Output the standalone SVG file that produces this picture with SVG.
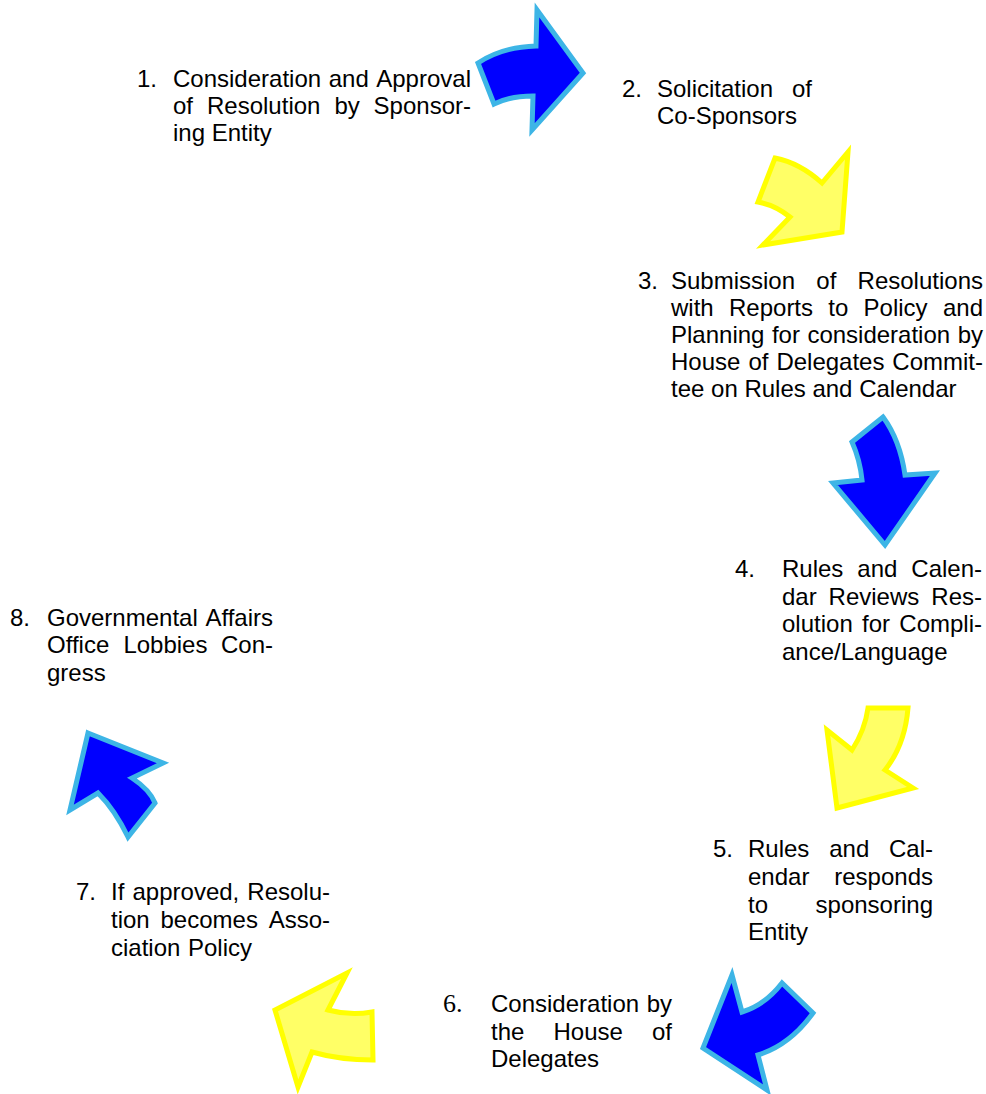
<svg xmlns="http://www.w3.org/2000/svg" width="986" height="1094" viewBox="0 0 986 1094">
<style>
.t{font-family:"Liberation Sans",Arial,sans-serif;font-size:24px;fill:#000}
.s{font-family:"Liberation Serif","Times New Roman",serif;font-size:26px;fill:#000}
.e{text-anchor:end}
.blue{fill:#0000FF;stroke:#3DB5E6;stroke-width:5;stroke-linejoin:miter}
.yellow{fill:#FFFF66;stroke:#FFFF00;stroke-width:5;stroke-linejoin:miter}
</style>
<rect width="986" height="1094" fill="#fff"/>
<g id="connectors">
<path class="blue" d="M478,63 Q502,47 536,46 L537,10 L583,73 L532,130 L533,96 Q510,96 494,104 Z"/>
<path class="yellow" d="M775,158 Q800,163 822,183 L848,152 L842,232 L763,245 L790,217 Q775,205 758,202 Z"/>
<path class="blue" d="M852,442 L883,417 Q900,440 905,475 L935,473 L885,545 L833,483 L862,480 Q860,460 852,442 Z"/>
<path class="yellow" d="M868,708 L908,708 Q905,745 885,770 L913,788 L837,808 L827,730 L852,750 Q865,730 868,708 Z"/>
<path class="blue" d="M732,975 L742,1012 Q765,1005 782,983 L813,1013 Q790,1045 758,1055 L767,1090 L703,1048 Z"/>
<path class="yellow" d="M347,973 L328,1010 Q350,1016 372,1012 L373,1060 Q340,1060 312,1052 L298,1087 L275,1010 Z"/>
<path class="blue" d="M88,733 L163,763 L132,778 Q150,790 155,803 L128,837 Q115,810 98,793 L70,810 Z"/>
</g>
<g id="node1">
<text class="t" x="137" y="87">1.</text>
<text class="t" y="87"><tspan x="173">Consideration</tspan><tspan x="328.7">and</tspan><tspan x="471" class="e">Approval</tspan></text>
<text class="t" y="114"><tspan x="173">of</tspan><tspan x="207">Resolution</tspan><tspan x="334.4">by</tspan><tspan x="471" class="e">Sponsor-</tspan></text>
<text class="t" x="173" y="141">ing Entity</text>
</g>
<g id="node2">
<text class="t" x="622" y="97">2.</text>
<text class="t" y="97"><tspan x="657">Solicitation</tspan><tspan x="812" class="e">of</tspan></text>
<text class="t" x="657" y="124">Co-Sponsors</text>
</g>
<g id="node3">
<text class="t" x="638" y="289">3.</text>
<text class="t" y="289"><tspan x="671">Submission</tspan><tspan x="816.3">of</tspan><tspan x="983" class="e">Resolutions</tspan></text>
<text class="t" y="316"><tspan x="671">with</tspan><tspan x="729">Reports</tspan><tspan x="828.3">to</tspan><tspan x="863.6">Policy</tspan><tspan x="983" class="e">and</tspan></text>
<text class="t" y="343"><tspan x="671">Planning</tspan><tspan x="771.9">for</tspan><tspan x="807.4">consideration</tspan><tspan x="983" class="e">by</tspan></text>
<text class="t" y="370"><tspan x="671">House</tspan><tspan x="748.4">of</tspan><tspan x="776.4">Delegates</tspan><tspan x="983" class="e">Commit-</tspan></text>
<text class="t" x="671" y="397">tee on Rules and Calendar</text>
</g>
<g id="node4">
<text class="t" x="735" y="577">4.</text>
<text class="t" y="577"><tspan x="782">Rules</tspan><tspan x="857.3">and</tspan><tspan x="982" class="e">Calen-</tspan></text>
<text class="t" y="605"><tspan x="782">dar</tspan><tspan x="828.6">Reviews</tspan><tspan x="982" class="e">Res-</tspan></text>
<text class="t" y="632"><tspan x="782">olution</tspan><tspan x="862">for</tspan><tspan x="982" class="e">Compli-</tspan></text>
<text class="t" x="782" y="660">ance/Language</text>
</g>
<g id="node5">
<text class="t" x="713" y="857">5.</text>
<text class="t" y="857"><tspan x="748">Rules</tspan><tspan x="829.2">and</tspan><tspan x="933" class="e">Cal-</tspan></text>
<text class="t" y="885"><tspan x="748">endar</tspan><tspan x="933" class="e">responds</tspan></text>
<text class="t" y="913"><tspan x="748">to</tspan><tspan x="933" class="e">sponsoring</tspan></text>
<text class="t" x="748" y="940">Entity</text>
</g>
<g id="node6">
<text class="s" x="443" y="1012">6.</text>
<text class="t" y="1012"><tspan x="491">Consideration</tspan><tspan x="672" class="e">by</tspan></text>
<text class="t" y="1040"><tspan x="491">the</tspan><tspan x="553.5">House</tspan><tspan x="672" class="e">of</tspan></text>
<text class="t" x="491" y="1067">Delegates</text>
</g>
<g id="node7">
<text class="t" x="76" y="900">7.</text>
<text class="t" y="900"><tspan x="111">If</tspan><tspan x="132.5">approved,</tspan><tspan x="330" class="e">Resolu-</tspan></text>
<text class="t" y="928"><tspan x="111">tion</tspan><tspan x="160.5">becomes</tspan><tspan x="330" class="e">Asso-</tspan></text>
<text class="t" y="956"><tspan x="111">ciation</tspan><tspan x="188">Policy</tspan></text>
</g>
<g id="node8">
<text class="t" x="10" y="626">8.</text>
<text class="t" y="626"><tspan x="47">Governmental</tspan><tspan x="273" class="e">Affairs</tspan></text>
<text class="t" y="653"><tspan x="47">Office</tspan><tspan x="123.4">Lobbies</tspan><tspan x="273" class="e">Con-</tspan></text>
<text class="t" x="47" y="681">gress</text>
</g>
</svg>
